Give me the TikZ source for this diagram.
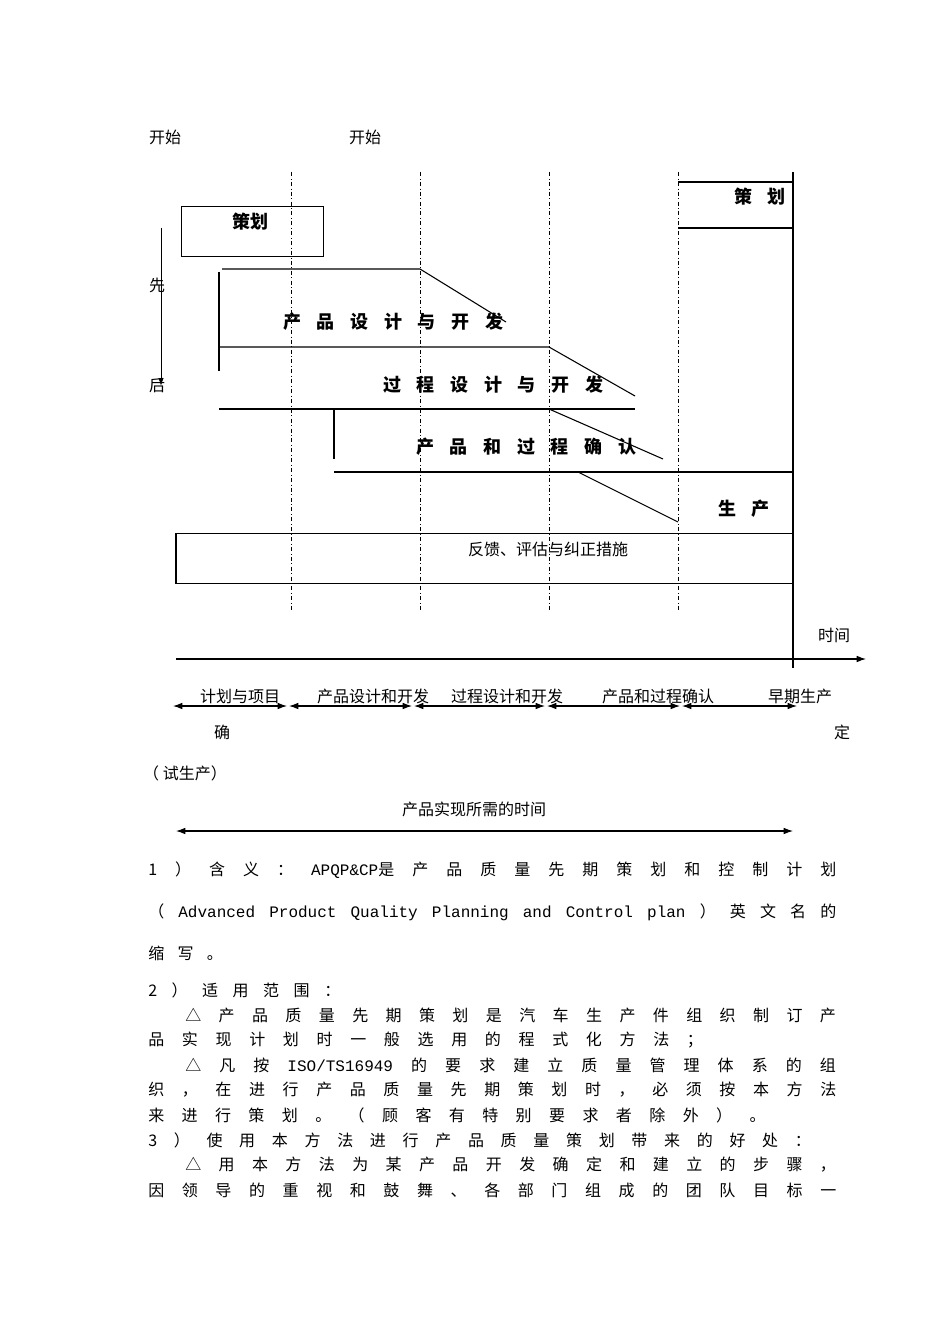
\documentclass[tikz,border=0pt]{standalone}
\usepackage{fontspec}
\setmainfont{Noto Sans CJK SC}
\newfontfamily\monof{Liberation Mono}
\usetikzlibrary{arrows.meta}
\def\Jstop{\relax}
\def\Jfirst#1{#1\Jrest}
\def\Jrest#1{\def\Jtmp{#1}\ifx\Jtmp\Jstop\else\hfill#1\expandafter\Jrest\fi}
\newcommand\Jl[2]{\makebox[#1][s]{\Jfirst#2\relax}}
\newcommand\M[1]{\mbox{\monof #1}}
\begin{document}
\begin{tikzpicture}[x=0.75pt,y=-0.75pt,
  ln/.style={line width=0.8pt},
  dd/.style={dash dot,line width=0.6pt},
  t/.style={font=\fontsize{12}{14}\selectfont,inner sep=0pt},
  bt/.style={font=\fontsize{13.5}{16}\selectfont\bfseries,inner sep=0pt},
  bl/.style={t,anchor=west},
  ar/.style={{Latex[length=7pt,width=5pt]}-{Latex[length=7pt,width=5pt]},line width=0.8pt}]
\useasboundingbox (0,0) rectangle (950,1344);
\node[t] (s1) at (165,137) {开始};
\node[t] (s2) at (365,137) {开始};
\foreach \x in {291,420,549,678} \draw[dd] (\x,172) -- (\x,612);
% planning box
\node[draw,ln,minimum width=107pt,minimum height=37pt,inner sep=0pt] (pb) at (252.5,231.5) {};
\node[bt] (pbt) at (250,222) {策划};
\draw[ln] (678,182) -- (793,182);
\draw[ln] (678,228) -- (793,228);
\draw[ln] (793,172) -- (793,668);
\node[bt] (pr) at (760,197) {\Jl{38pt}{策划}};
% first-last arrow
\draw[-{Latex[length=6pt,width=4pt]},line width=0.6pt] (161,228) -- (161,386);
\node[t] (xian) at (157,285) {先};
\node[t] (hou) at (157,385) {后};
% phases
\draw[ln] (222,269) -- (420,269) -- (506,322);
\draw[ln] (219,272) -- (219,371);
\node[bt] (p1) at (393,322) {\Jl{165pt}{产品设计与开发}};
\draw[ln] (219,347) -- (549,347) -- (635,396);
\node[bt] (p2) at (493,385) {\Jl{165pt}{过程设计与开发}};
\draw[ln] (219,409) -- (635,409);
\draw[ln] (549,409) -- (663,459);
\draw[ln] (334,409) -- (334,459);
\node[bt] (p3) at (526,447) {\Jl{165pt}{产品和过程确认}};
\draw[ln] (334,472) -- (793,472);
\draw[ln] (578,472) -- (678,522);
\node[bt] (p4) at (744,509) {\Jl{39pt}{生产}};
\node[draw,ln,minimum width=462.75pt,minimum height=37pt,inner sep=0pt] (fb) at (484.5,558.5) {};
\node[t] (fbt) at (548,549) {反馈、评估与纠正措施};
% time axis
\coordinate (ta) at (176,659);
\coordinate (tb) at (866,659);
\draw[-{Latex[length=7pt,width=5pt]},line width=0.8pt] (ta) -- (tb);
\node[t] (tt) at (834,635) {时间};
\foreach \a/\b in {173/287,289/412,414/545,547/680,682/797}
  \draw[ar] (\a,706) -- (\b,706);
\node[t] (l1) at (240,696) {计划与项目};
\node[t] (l2) at (373,696) {产品设计和开发};
\node[t] (l3) at (507,696) {过程设计和开发};
\node[t] (l4) at (658,696) {产品和过程确认};
\node[t] (l5) at (800,696) {早期生产};
\node[t] (q1) at (222,732) {确};
\node[t] (q2) at (842,732) {定};
\node[t] (q3) at (185,773) {（ 试生产）};
\node[t] (rt) at (474,809) {产品实现所需的时间};
\draw[ar] (176,831) -- (793,831);
% body text
\node[bl] (b1) at (148,870) {\Jl{516pt}{1）含义：{\M{APQP\&CP}是}产品质量先期策划和控制计划}};
\node[bl] (b2) at (148,912) {\Jl{516pt}{（{\M{Advanced}}{\M{Product}}{\M{Quality}}{\M{Planning}}{\M{and}}{\M{Control}}{\M{plan}}）英文名的}};
\node[bl] (b3) at (148,953) {\Jl{56pt}{缩写。}};
\node[bl] (b4) at (148,990) {\Jl{144pt}{2）适用范围：}};
\node[bl] (b5) at (185,1015) {\Jl{488pt}{△产品质量先期策划是汽车生产件组织制订产}};
\node[bl] (b6) at (148,1040) {\Jl{416pt}{品实现计划时一般选用的程式化方法；}};
\node[bl] (b7) at (185,1065) {\Jl{488pt}{△凡按{\M{ISO/TS16949}}的要求建立质量管理体系的组}};
\node[bl] (b8) at (148,1090) {\Jl{516pt}{织，在进行产品质量先期策划时，必须按本方法}};
\node[bl] (b9) at (148,1115) {\Jl{463pt}{来进行策划。（顾客有特别要求者除外）。}};
\node[bl] (b10) at (148,1140) {\Jl{497pt}{3）使用本方法进行产品质量策划带来的好处：}};
\node[bl] (b11) at (185,1165) {\Jl{488pt}{△用本方法为某产品开发确定和建立的步骤，}};
\node[bl] (b12) at (148,1190) {\Jl{516pt}{因领导的重视和鼓舞、各部门组成的团队目标一}};
\end{tikzpicture}
\end{document}
